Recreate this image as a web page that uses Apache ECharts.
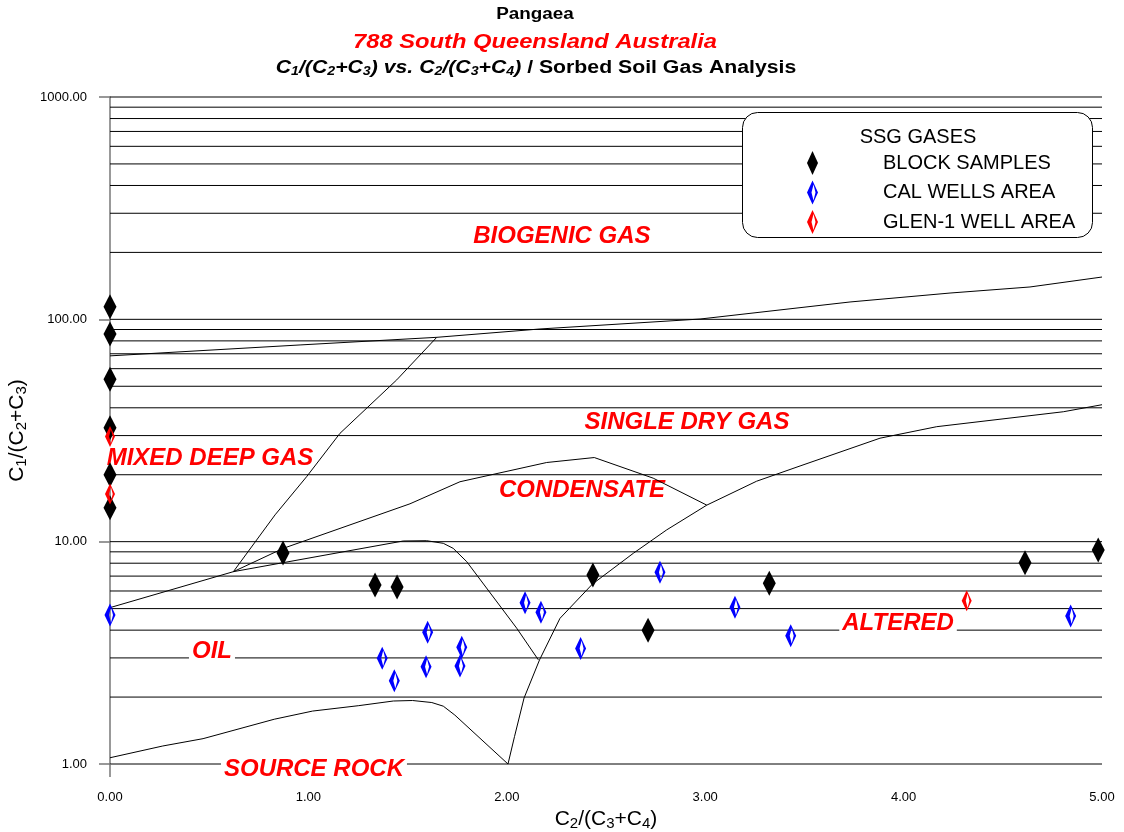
<!DOCTYPE html>
<html>
<head>
<meta charset="utf-8">
<script src="https://cdn.jsdelivr.net/npm/echarts@6/dist/echarts.min.js"></script>
<style>
  html, body { margin: 0; padding: 0; background: #fff; }
  #chart { width: 1124px; height: 832px; }
</style>
</head>
<body>
<div id="chart"></div>
<script>
// Sample points: [C2/(C3+C4), C1/(C2+C3)]
const blockSamples = [
  [0, 114], [0, 86], [0, 53.7], [0, 32.5], [0, 20.0], [0, 14.2],
  [0.872, 8.89], [1.336, 6.38], [1.447, 6.25], [2.434, 7.08],
  [2.712, 4.0], [3.323, 6.5], [4.612, 8.04], [4.981, 9.17]
];
const calWellsArea = [
  [0, 4.68], [1.372, 2.99], [1.433, 2.37], [1.601, 3.91], [1.593, 2.74],
  [1.773, 3.35], [1.764, 2.76], [2.092, 5.31], [2.172, 4.81], [2.372, 3.31],
  [2.772, 7.28], [3.150, 5.07], [3.431, 3.77], [4.842, 4.63]
];
const glenWellArea = [[0, 29.7], [0, 16.4], [4.318, 5.43]];

// Field boundaries of the interpretation template
const biogenicBoundary = [
  [0, 68.5], [0.958, 76.7], [1.647, 83], [2.167, 90.5], [2.974, 100.3],
  [3.730, 119.7], [4.234, 131.3], [4.637, 139.8], [5, 155]
];
const mixedDeepBoundary = [
  [0.622, 7.33], [0.832, 13.2], [0.991, 19.6], [1.159, 30.7], [1.445, 53.4], [1.647, 83]
];
const oilBoundary = [
  [0, 5.05], [0.622, 7.33], [1.478, 10.07], [1.596, 10.1], [1.68, 9.83],
  [1.73, 9.33], [1.798, 8.13], [2.05, 4.08], [2.159, 2.94]
];
const condensateBoundary = [
  [0.622, 7.33], [0.873, 9.33], [1.512, 14.8], [1.764, 18.6], [2.201, 22.7],
  [2.441, 23.9], [2.738, 19.3], [3.008, 14.6]
];
const alteredBoundary = [
  [2.006, 1], [2.039, 1.33], [2.087, 1.98], [2.165, 2.94], [2.268, 4.52],
  [2.432, 6.45], [2.638, 8.87], [2.806, 11.3], [3.008, 14.6], [3.259, 18.7],
  [3.478, 21.9], [3.881, 29.2], [4.167, 32.9], [4.805, 38.4], [5, 41.3]
];
const sourceRockBoundary = [
  [0, 1.067], [0.266, 1.205], [0.469, 1.30], [0.828, 1.59], [1.021, 1.73],
  [1.254, 1.83], [1.428, 1.92], [1.525, 1.93], [1.622, 1.89], [1.68, 1.82],
  [1.738, 1.66], [2.006, 1]
];

// Horizontal reference lines (every 1-9 step of each decade)
const gridValues = [
  1, 2, 3, 4, 5, 6, 7, 8, 9,
  10, 20, 30, 40, 50, 60, 70, 80, 90,
  100, 200, 300, 400, 500, 600, 700, 800, 900, 1000
];

// Zone names placed in data space
const zoneNames = ['BIOGENIC GAS', 'SINGLE DRY GAS', 'MIXED DEEP GAS', 'CONDENSATE', 'OIL', 'SOURCE ROCK', 'ALTERED'];
const zonePositions = [[2.278, 242], [2.908, 35.3], [0.504, 24.3], [2.379, 17.4], [0.514, 3.29], [1.028, 0.969], [3.972, 4.40]];

const X_MIN = 0, X_MAX = 5;
const FONT = '"Liberation Sans", Arial, sans-serif';
// open diamond with a heavier left edge
const openDiamond = 'path://M5.5 0L11 12L5.5 24L0 12Z M6.5 4L4.5 12L6.5 20L8.5 12Z';

const subRich = {
  n: { fontSize: 21, fontFamily: FONT, color: '#000', lineHeight: 23 },
  s: { fontSize: 15, fontFamily: FONT, color: '#000', lineHeight: 15, verticalAlign: 'bottom' }
};

const plainLine = (data, z) => ({
  type: 'line', data, showSymbol: false, symbol: 'none', silent: true, z, clip: false,
  lineStyle: { color: '#000', width: 1 }, emphasis: { disabled: true }
});

const chart = echarts.init(document.getElementById('chart'));

chart.setOption({
  animation: false,
  backgroundColor: '#fff',
  grid: { left: 110, right: 22, top: 97, bottom: 68, outerBoundsMode: 'none' },
  xAxis: {
    type: 'value', min: X_MIN, max: X_MAX, interval: 1,
    axisLine: { show: false }, axisTick: { show: false }, splitLine: { show: false },
    axisLabel: { formatter: v => v.toFixed(2), color: '#000', fontSize: 13, fontFamily: FONT, margin: 27 },
    name: '{n|C}{s|2}{n|/(C}{s|3}{n|+C}{s|4}{n|)}',
    nameLocation: 'middle', nameGap: 42,
    nameTextStyle: { rich: subRich }
  },
  yAxis: {
    type: 'log', logBase: 10, min: 1, max: 1000,
    axisLine: { show: true, lineStyle: { color: '#777', width: 1.5 } },
    axisTick: { show: true, length: 11, lineStyle: { color: '#777', width: 1.5 } },
    splitLine: { show: false },
    axisLabel: { formatter: v => v.toFixed(2), color: '#000', fontSize: 13, fontFamily: FONT, margin: 23 },
    name: '{n|C}{s|1}{n|/(C}{s|2}{n|+C}{s|3}{n|)}',
    nameLocation: 'middle', nameGap: 79,
    nameTextStyle: { rich: subRich }
  },
  legend: {
    data: ['BLOCK SAMPLES', 'CAL WELLS AREA', 'GLEN-1 WELL AREA'],
    orient: 'vertical', left: 802, top: 146, itemWidth: 11, itemHeight: 24, itemGap: 5.5,
    z: 60, selectedMode: false,
    textStyle: { fontSize: 20, fontFamily: FONT, color: '#000', padding: [0, 0, 0, 60] }
  },
  graphic: [
    // short continuation of the vertical axis below the plot
    { type: 'line', z: 4, shape: { x1: 110, y1: 764, x2: 110, y2: 777 },
      style: { stroke: '#777', lineWidth: 1.5 } },
    { type: 'rect', x: 742.5, y: 112.5, z: 50,
      shape: { x: 0, y: 0, width: 350, height: 125, r: 15 },
      style: { fill: '#fff', stroke: '#000', lineWidth: 1 } },
    { type: 'text', x: 918, y: 137, z: 51,
      style: { text: 'SSG GASES', align: 'center', verticalAlign: 'middle', fontSize: 20, fontFamily: FONT, fill: '#000' } },
    { type: 'text', x: 535, y: 15, z: 51, scaleX: 1.18,
      style: { text: 'Pangaea', align: 'center', verticalAlign: 'middle', fontSize: 16, fontWeight: 'bold', fontFamily: FONT, fill: '#000' } },
    { type: 'text', x: 535, y: 42, z: 51, scaleX: 1.13,
      style: { text: '788 South Queensland Australia', align: 'center', verticalAlign: 'middle', fontSize: 21, fontWeight: 'bold', fontStyle: 'italic', fontFamily: FONT, fill: '#ff0000' } },
    { type: 'text', x: 536, y: 68, z: 51, scaleX: 1.18,
      style: {
        text: '{f|C}{s|1}{f|/(C}{s|2}{f|+C}{s|3}{f|) vs. C}{s|2}{f|/(C}{s|3}{f|+C}{s|4}{f|)}{n| / Sorbed Soil Gas Analysis}',
        align: 'center', verticalAlign: 'middle',
        rich: {
          f: { fontSize: 18, fontWeight: 'bold', fontStyle: 'italic', fontFamily: FONT, fill: '#000', lineHeight: 20 },
          n: { fontSize: 18, fontWeight: 'bold', fontFamily: FONT, fill: '#000', lineHeight: 20 },
          s: { fontSize: 12, fontWeight: 'bold', fontStyle: 'italic', fontFamily: FONT, fill: '#000', lineHeight: 12, verticalAlign: 'bottom' }
        }
      } }
  ],
  series: [
    // horizontal reference lines
    ...gridValues.map(v => plainLine([[X_MIN, v], [X_MAX, v]], 1)),
    // zone names with a white backing that interrupts the reference lines
    {
      type: 'scatter', silent: true, z: 2, clip: false,
      symbolSize: 1, itemStyle: { color: 'rgba(0,0,0,0)', opacity: 1 },
      emphasis: { disabled: true },
      data: zoneNames.map((name, i) => ({ name, value: zonePositions[i] })),
      label: {
        show: true, position: 'inside', formatter: '{b}', offset: [0, 2],
        color: '#ff0000', opacity: 1, fontSize: 24, fontWeight: 'bold', fontStyle: 'italic', fontFamily: FONT,
        backgroundColor: '#fff', padding: [4, 3, 2, 3], lineHeight: 20
      }
    },
    plainLine(biogenicBoundary, 3),
    plainLine(mixedDeepBoundary, 3),
    plainLine(oilBoundary, 3),
    plainLine(condensateBoundary, 3),
    plainLine(alteredBoundary, 3),
    plainLine(sourceRockBoundary, 3),
    {
      name: 'BLOCK SAMPLES', type: 'scatter', data: blockSamples, z: 5, clip: false,
      symbol: 'diamond', symbolSize: [13, 25], itemStyle: { color: '#000', opacity: 1 }
    },
    {
      name: 'CAL WELLS AREA', type: 'scatter', data: calWellsArea, z: 5, clip: false,
      symbol: openDiamond, symbolSize: [11, 23], itemStyle: { color: '#0000ff', opacity: 1 }
    },
    {
      name: 'GLEN-1 WELL AREA', type: 'scatter', data: glenWellArea, z: 5, clip: false,
      symbol: openDiamond, symbolSize: [10, 21], itemStyle: { color: '#ff0000', opacity: 1 }
    }
  ]
});
</script>
</body>
</html>
